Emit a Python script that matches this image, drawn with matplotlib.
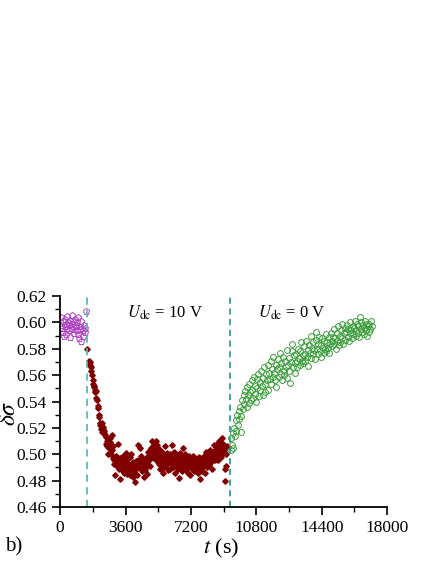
import numpy as np
import matplotlib
matplotlib.use("Agg")
import matplotlib.pyplot as plt
from matplotlib.ticker import MultipleLocator, FormatStrFormatter

plt.rcParams['font.family'] = ['Liberation Serif', 'DejaVu Serif']
plt.rcParams['mathtext.fontset'] = 'stix'

# before the field is switched on (open pentagons)
t_pre = [40, 70, 110, 140, 170, 200, 240, 270, 300, 330, 370, 400, 430, 470, 500,
         530, 560, 600, 630, 660, 700, 730, 760, 800, 830, 860, 900, 930, 960, 1000,
         1030, 1060, 1100, 1130, 1160, 1200, 1230, 1270, 1300, 1340, 1380, 1420]
v_pre = [0.604, 0.598, 0.596, 0.601, 0.593, 0.590, 0.597, 0.603, 0.599, 0.591,
         0.596, 0.605, 0.600, 0.594, 0.598, 0.602, 0.589, 0.596, 0.606, 0.599,
         0.595, 0.601, 0.592, 0.597, 0.603, 0.598, 0.594, 0.600, 0.591, 0.604,
         0.597, 0.588, 0.595, 0.601, 0.586, 0.596, 0.594, 0.590, 0.598, 0.593,
         0.596, 0.609]

# Udc = 10 V
t_on = [1500, 1560, 1590, 1620, 1650, 1680, 1710, 1740, 1780, 1810, 1840, 1870, 1900,
        1930, 1960, 1990, 2030, 2060, 2090, 2120, 2160, 2190, 2220, 2250, 2280, 2310,
        2350, 2380, 2410, 2440, 2470, 2500, 2540, 2570, 2600, 2630, 2660, 2700, 2730,
        2760, 2790, 2830, 2860, 2890, 2920, 2950, 2990, 3020, 3050, 3080, 3120, 3150,
        3180, 3210, 3250, 3280, 3310, 3340, 3380, 3410, 3440, 3470, 3500, 3540, 3570,
        3600, 3630, 3670, 3700, 3730, 3760, 3800, 3830, 3860, 3890, 3920, 3960, 3990,
        4020, 4050, 4090, 4120, 4150, 4180, 4220, 4250, 4280, 4310, 4350, 4380, 4410,
        4440, 4480, 4510, 4540, 4570, 4600, 4640, 4670, 4700, 4730, 4770, 4800, 4830,
        4860, 4900, 4930, 4960, 4990, 5030, 5060, 5090, 5120, 5160, 5190, 5220, 5250,
        5290, 5320, 5350, 5380, 5420, 5450, 5480, 5510, 5550, 5580, 5610, 5640, 5680,
        5710, 5740, 5770, 5810, 5840, 5870, 5900, 5940, 5970, 6000, 6030, 6070, 6100,
        6130, 6160, 6200, 6230, 6260, 6290, 6330, 6360, 6390, 6420, 6460, 6490, 6520,
        6550, 6590, 6620, 6650, 6680, 6720, 6750, 6780, 6810, 6850, 6880, 6910, 6940,
        6980, 7010, 7040, 7070, 7110, 7140, 7170, 7200, 7240, 7270, 7300, 7330, 7370,
        7400, 7430, 7460, 7500, 7530, 7560, 7590, 7630, 7660, 7690, 7720, 7760, 7790,
        7820, 7850, 7890, 7920, 7950, 7980, 8020, 8050, 8080, 8110, 8150, 8180, 8210,
        8240, 8280, 8310, 8340, 8370, 8410, 8440, 8470, 8500, 8540, 8570, 8600, 8630,
        8670, 8700, 8730, 8760, 8800, 8830, 8860, 8890, 8930, 8960, 8990, 9020, 9050,
        9090, 9120, 9150, 9180]
v_on = [0.580, 0.571, 0.569, 0.570, 0.568, 0.566, 0.563, 0.560, 0.556, 0.553, 0.551,
        0.552, 0.549, 0.547, 0.548, 0.543, 0.541, 0.537, 0.535, 0.530, 0.528, 0.524,
        0.522, 0.519, 0.524, 0.517, 0.519, 0.521, 0.516, 0.518, 0.515, 0.513, 0.508,
        0.506, 0.510, 0.500, 0.507, 0.505, 0.512, 0.509, 0.500, 0.503, 0.515, 0.497,
        0.506, 0.493, 0.496, 0.484, 0.499, 0.496, 0.491, 0.498, 0.508, 0.494, 0.489,
        0.497, 0.481, 0.492, 0.495, 0.488, 0.499, 0.493, 0.486, 0.496, 0.491, 0.501,
        0.489, 0.494, 0.485, 0.497, 0.490, 0.487, 0.498, 0.484, 0.492, 0.500, 0.488,
        0.483, 0.494, 0.486, 0.491, 0.479, 0.489, 0.495, 0.484, 0.492, 0.507, 0.496,
        0.490, 0.505, 0.494, 0.499, 0.487, 0.494, 0.490, 0.496, 0.483, 0.492, 0.488,
        0.497, 0.490, 0.485, 0.494, 0.499, 0.502, 0.496, 0.503, 0.491, 0.505, 0.498,
        0.510, 0.506, 0.500, 0.508, 0.497, 0.503, 0.510, 0.502, 0.495, 0.507, 0.499,
        0.504, 0.493, 0.500, 0.489, 0.496, 0.492, 0.502, 0.486, 0.495, 0.499, 0.490,
        0.506, 0.497, 0.492, 0.501, 0.494, 0.488, 0.498, 0.495, 0.489, 0.500, 0.493,
        0.507, 0.496, 0.490, 0.497, 0.502, 0.491, 0.486, 0.495, 0.500, 0.492, 0.489,
        0.497, 0.482, 0.494, 0.501, 0.490, 0.496, 0.487, 0.499, 0.493, 0.505, 0.496,
        0.490, 0.500, 0.494, 0.488, 0.497, 0.491, 0.486, 0.495, 0.499, 0.484, 0.492,
        0.496, 0.489, 0.494, 0.499, 0.491, 0.487, 0.497, 0.493, 0.489, 0.495, 0.490,
        0.486, 0.494, 0.498, 0.489, 0.493, 0.481, 0.490, 0.496, 0.487, 0.493, 0.499,
        0.491, 0.486, 0.495, 0.502, 0.497, 0.490, 0.494, 0.499, 0.492, 0.497, 0.503,
        0.494, 0.500, 0.489, 0.496, 0.502, 0.498, 0.507, 0.500, 0.496, 0.504, 0.499,
        0.508, 0.502, 0.496, 0.510, 0.504, 0.500, 0.507, 0.498, 0.512, 0.505, 0.501,
        0.508, 0.503, 0.480, 0.489, 0.491, 0.500, 0.506]

# Udc = 0 V (relaxation, open circles)
t_off = [9380, 9420, 9460, 9500, 9540, 9580, 9620, 9660, 9700, 9740,
         9780, 9820, 9860, 9900, 9940, 9980, 10020, 10060, 10100, 10140,
         10180, 10220, 10260, 10300, 10340, 10380, 10420, 10460, 10500, 10540,
         10580, 10620, 10660, 10700, 10740, 10780, 10820, 10860, 10900, 10940,
         10980, 11020, 11060, 11100, 11140, 11180, 11220, 11260, 11300, 11340,
         11380, 11420, 11460, 11500, 11540, 11580, 11620, 11660, 11700, 11740,
         11780, 11820, 11860, 11900, 11940, 11980, 12020, 12060, 12100, 12140,
         12180, 12220, 12260, 12300, 12340, 12380, 12420, 12460, 12500, 12540,
         12580, 12620, 12660, 12700, 12740, 12780, 12820, 12860, 12900, 12940,
         12980, 13020, 13060, 13100, 13140, 13180, 13220, 13260, 13300, 13340,
         13380, 13420, 13460, 13500, 13540, 13580, 13620, 13660, 13700, 13740,
         13780, 13820, 13860, 13900, 13940, 13980, 14020, 14060, 14100, 14140,
         14180, 14220, 14260, 14300, 14340, 14380, 14420, 14460, 14500, 14540,
         14580, 14620, 14660, 14700, 14740, 14780, 14820, 14860, 14900, 14940,
         14980, 15020, 15060, 15100, 15140, 15180, 15220, 15260, 15300, 15340,
         15380, 15420, 15460, 15500, 15540, 15580, 15620, 15660, 15700, 15740,
         15780, 15820, 15860, 15900, 15940, 15980, 16020, 16060, 16100, 16140,
         16180, 16220, 16260, 16300, 16340, 16380, 16420, 16460, 16500, 16540,
         16580, 16620, 16660, 16700, 16740, 16780, 16820, 16860, 16900, 16940,
         16980, 17020, 17060, 17100, 17140]
v_off = [0.503, 0.512, 0.507, 0.516, 0.505, 0.520, 0.514, 0.526, 0.518, 0.530,
         0.522, 0.533, 0.527, 0.536, 0.517, 0.529, 0.541, 0.534, 0.545, 0.538,
         0.548, 0.542, 0.536, 0.551, 0.545, 0.539, 0.553, 0.547, 0.541, 0.556,
         0.549, 0.543, 0.559, 0.552, 0.546, 0.540, 0.557, 0.550, 0.561, 0.544,
         0.555, 0.549, 0.563, 0.552, 0.545, 0.558, 0.566, 0.553, 0.547, 0.561,
         0.556, 0.568, 0.549, 0.562, 0.557, 0.571, 0.553, 0.565, 0.559, 0.574,
         0.562, 0.556, 0.568, 0.551, 0.565, 0.572, 0.559, 0.566, 0.577, 0.561,
         0.569, 0.556, 0.574, 0.563, 0.560, 0.571, 0.566, 0.579, 0.558, 0.568,
         0.573, 0.563, 0.554, 0.570, 0.584, 0.578, 0.566, 0.575, 0.569, 0.562,
         0.576, 0.571, 0.566, 0.580, 0.573, 0.568, 0.578, 0.585, 0.571, 0.575,
         0.569, 0.582, 0.576, 0.571, 0.586, 0.574, 0.579, 0.567, 0.583, 0.577,
         0.573, 0.590, 0.581, 0.576, 0.585, 0.579, 0.572, 0.587, 0.593, 0.580,
         0.576, 0.584, 0.589, 0.578, 0.583, 0.574, 0.588, 0.581, 0.577, 0.586,
         0.580, 0.591, 0.578, 0.585, 0.581, 0.589, 0.577, 0.584, 0.592, 0.586,
         0.582, 0.589, 0.595, 0.584, 0.588, 0.580, 0.592, 0.586, 0.597, 0.583,
         0.590, 0.585, 0.594, 0.588, 0.599, 0.584, 0.592, 0.596, 0.587, 0.593,
         0.598, 0.589, 0.595, 0.586, 0.592, 0.600, 0.594, 0.588, 0.597, 0.591,
         0.596, 0.601, 0.590, 0.594, 0.599, 0.592, 0.597, 0.589, 0.604, 0.595,
         0.600, 0.593, 0.598, 0.591, 0.596, 0.601, 0.594, 0.599, 0.590, 0.597,
         0.593, 0.599, 0.595, 0.601, 0.597]

t_switch = [1480, 9360]

fig = plt.figure(figsize=(4.36, 5.64), dpi=100)
ax = fig.add_axes([0.138, 0.101, 0.750, 0.374])

ax.plot(t_pre, v_pre, linestyle='none', marker='p', markersize=4.5,
        markerfacecolor='none', markeredgecolor='#b144c4', markeredgewidth=0.7)
ax.plot(t_on, v_on, linestyle='none', marker='D', markersize=2.8,
        color='#800000', markeredgecolor='#800000')
ax.plot(t_off, v_off, linestyle='none', marker='o', markersize=4.2,
        markerfacecolor='none', markeredgecolor='#3a9c3a', markeredgewidth=0.7)

ax.axvline(t_switch[0], color='#5fb8b8', linestyle='--', linewidth=1.3, dashes=(4, 3))
ax.axvline(t_switch[1], color='#0f8a8a', linestyle='--', linewidth=1.1, dashes=(4, 3))

ax.set_xlim(0, 18000)
ax.set_ylim(0.46, 0.62)
ax.xaxis.set_major_locator(MultipleLocator(3600))
ax.xaxis.set_minor_locator(MultipleLocator(1800))
ax.yaxis.set_major_locator(MultipleLocator(0.02))
ax.yaxis.set_minor_locator(MultipleLocator(0.01))
ax.yaxis.set_major_formatter(FormatStrFormatter('%.2f'))

for s in ['top', 'right']:
    ax.spines[s].set_visible(False)
for s in ['left', 'bottom']:
    ax.spines[s].set_linewidth(1.3)
ax.tick_params(which='major', direction='out', length=6, width=1.2, labelsize=12.5)
ax.tick_params(which='minor', direction='out', length=3.5, width=1.0)

ax.text(3700, 0.607, r'$U_{\rm dc}$ = 10 V', fontsize=12, ha='left', va='center')
ax.text(10900, 0.607, r'$U_{\rm dc}$ = 0 V', fontsize=12, ha='left', va='center')

fig.text(0.508, 0.028, r'$t$ (s)', fontsize=16, ha='center', va='center')
fig.text(0.022, 0.268, r'$\delta\sigma$', fontsize=17, rotation=90, ha='center', va='center')
fig.text(0.012, 0.03, 'b)', fontsize=15, ha='left', va='center')

fig.savefig('out.png', dpi=100)
